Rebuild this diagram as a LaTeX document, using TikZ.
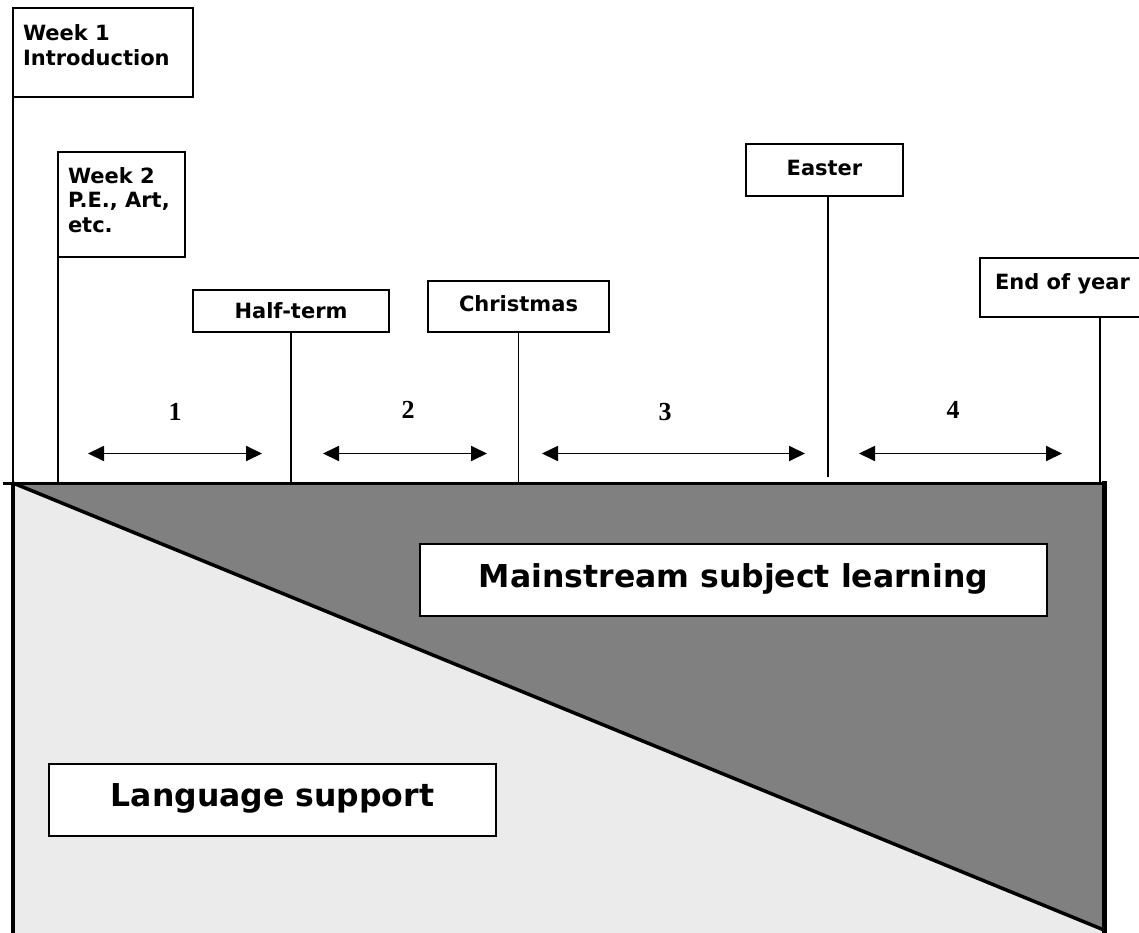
\documentclass[tikz,border=0pt]{standalone}
\usepackage{fontspec}
\setmainfont{DejaVu Sans}
\newfontfamily\numfont{Liberation Serif}
\usetikzlibrary{arrows.meta}
\definecolor{lightfill}{HTML}{EBEBEB}
\definecolor{darkfill}{HTML}{808080}
\begin{document}
\begin{tikzpicture}[x=1pt,y=-1pt,
  box/.style={draw=black, line width=1.5pt, fill=white, inner sep=0pt, outer sep=0pt,
              font=\fontsize{21}{24.5}\selectfont\bfseries},
  bigbox/.style={draw=black, line width=1.5pt, fill=white, inner sep=0pt, outer sep=0pt,
              font=\fontsize{31.5}{36}\selectfont\bfseries, text height=23pt},
  tick/.style={draw=black, line width=1.6pt},
  period/.style={line width=1.8pt, {Triangle[length=16pt,width=15pt]}-{Triangle[length=16pt,width=15pt]}},
  num/.style={font=\numfont\bfseries\fontsize{26}{30}\selectfont, inner sep=0pt},
  edge/.style={draw=black, line width=#1},
]
\useasboundingbox (0,0) rectangle (1139,933);

% regions
\coordinate (tl) at (13,483);
\coordinate (tr) at (1104,483);
\coordinate (br) at (1104,930);
\coordinate (bl) at (13,940);
\coordinate (brr) at (1104,940);
\fill[lightfill] (tl) -- (br) -- (brr) -- (bl) -- cycle;
\fill[darkfill] (tl) -- (tr) -- (br) -- cycle;

% milestone boxes
\node[box, anchor=north west, inner xsep=10pt, inner ysep=17pt] (w1) at (13,8)
  {\parbox[t][55pt][t]{160pt}{\raggedright Week 1\\Introduction}};
\node[box, anchor=north west, inner xsep=10pt, inner ysep=15.5pt] (w2) at (58,152)
  {\parbox[t][74pt][t]{107pt}{\raggedright Week 2\\\mbox{P.E., Art,}\\etc.}};
\node[box, minimum width=196pt, minimum height=42pt, text height=15.3pt, text depth=1.3pt] (ht) at (291,311) {Half-term};
\node[box, minimum width=181pt, minimum height=51pt, text height=15.3pt, text depth=6.3pt] (ch) at (518.5,306.5) {Christmas};
\node[box, minimum width=157pt, minimum height=52pt, text height=15.3pt, text depth=3.3pt] (ea) at (824.5,170) {Easter};
\node[box, minimum width=165pt, minimum height=59pt, text height=15.3pt, text depth=12.3pt] (ey) at (1062.5,287.5) {End of year};

% ticks
\coordinate (base) at (0,483);
\coordinate (eab) at (828,477);
\coordinate (eyb) at (1100,483);
\draw[tick] (w1.south west) -- (w1.south west |- base);
\draw[tick] (w2.south west) -- (w2.south west |- base);
\draw[tick] (ht.south) -- (ht.south |- base);
\draw[tick] (ch.south) -- (ch.south |- base);
\draw[tick] (eab |- ea.south) -- (eab);
\draw[tick] (eyb |- ey.south) -- (eyb);

% outline
\coordinate (tl0) at (3,483.5);
\coordinate (tr0) at (1106.5,483.5);
\draw[edge=3.5pt] (tl) -- (br);
\draw[edge=3.5pt] (tl0) -- (tr0);
\draw[edge=4pt] (12.5,483) -- (12.5,940);
\draw[edge=5pt] (1104,481) -- (1104,940);

% period arrows
\coordinate (a1l) at (88,453.5);  \coordinate (a1r) at (262,453.5);
\coordinate (a2l) at (323,453.5); \coordinate (a2r) at (487,453.5);
\coordinate (a3l) at (542,453.5); \coordinate (a3r) at (805,453.5);
\coordinate (a4l) at (859,453.5); \coordinate (a4r) at (1062,453.5);
\draw[period] (a1l) -- (a1r);
\draw[period] (a2l) -- (a2r);
\draw[period] (a3l) -- (a3r);
\draw[period] (a4l) -- (a4r);
\node[num] (n1) at (175,412) {1};
\node[num] (n2) at (408,410) {2};
\node[num] (n3) at (665,412) {3};
\node[num] (n4) at (953,410) {4};

% main labels
\node[bigbox, text depth=9pt, minimum width=627pt, minimum height=72pt] (ms) at (733.5,580) {Mainstream subject learning};
\node[bigbox, text depth=10pt, minimum width=447pt, minimum height=72pt] (ls) at (272.5,800) {Language support};
\end{tikzpicture}
\end{document}
